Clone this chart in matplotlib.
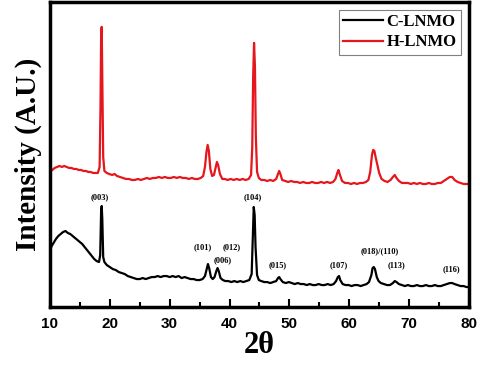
import matplotlib
matplotlib.use("Agg")
import matplotlib.pyplot as plt
from matplotlib.ticker import MultipleLocator

# C-LNMO pattern (2theta, intensity in arbitrary units)
c_2theta = [10.0, 10.3, 10.6, 11.0, 11.4, 11.8, 12.2, 12.6, 13.0, 13.4, 13.8, 14.2, 14.6, 15.0, 15.4,
            15.8, 16.2, 16.6, 17.0, 17.4, 17.8, 18.2, 18.4, 18.55, 18.65, 18.75, 18.9, 19.1, 19.5, 20.0,
            20.5, 21.0, 21.5, 22.0, 22.5, 23.0, 23.5, 24.0, 24.5, 25.0, 25.5, 26.0, 26.5, 27.0, 27.5,
            28.0, 28.5, 29.0, 29.5, 30.0, 30.5, 31.0, 31.5, 32.0, 32.5, 33.0, 33.5, 34.0, 34.5, 35.0,
            35.5, 35.9, 36.2, 36.4, 36.6, 36.9, 37.2, 37.5, 37.8, 38.0, 38.2, 38.5, 38.9, 39.3, 39.8,
            40.3, 40.8, 41.3, 41.8, 42.3, 42.8, 43.3, 43.7, 43.9, 44.05, 44.2, 44.35, 44.6, 44.9, 45.3,
            45.8, 46.3, 46.8, 47.3, 47.8, 48.1, 48.3, 48.5, 48.9, 49.4, 49.9, 50.4, 50.9, 51.4, 51.9,
            52.4, 52.9, 53.4, 53.9, 54.4, 54.9, 55.4, 55.9, 56.4, 56.9, 57.4, 57.8, 58.1, 58.3, 58.5,
            58.9, 59.4, 59.9, 60.4, 60.9, 61.4, 61.9, 62.4, 62.9, 63.3, 63.7, 63.9, 64.1, 64.3, 64.6,
            64.9, 65.3, 65.8, 66.3, 66.8, 67.3, 67.6, 67.9, 68.3, 68.8, 69.3, 69.8, 70.3, 70.8, 71.3,
            71.8, 72.3, 72.8, 73.3, 73.8, 74.3, 74.8, 75.3, 75.8, 76.3, 76.8, 77.2, 77.6, 78.1, 78.6,
            79.1, 79.6, 80.0]
c_int = [57, 61, 64, 68, 71, 73, 75, 76, 74, 73, 71, 69, 67, 65, 63,
         60, 57, 54, 51, 48, 46, 45, 52, 95, 101, 88, 50, 45, 42, 40,
         38, 37, 35, 34, 33, 31, 30, 29, 28, 28, 29, 28, 29, 30, 30,
         31, 30, 31, 31, 30, 31, 30, 31, 29, 30, 29, 28, 28, 27, 27,
         28, 31, 38, 43, 39, 30, 28, 30, 36, 39, 36, 29, 27, 26, 26,
         25, 26, 25, 26, 25, 26, 27, 33, 70, 100, 92, 60, 32, 27, 26,
         25, 25, 24, 25, 26, 29, 30, 28, 25, 24, 25, 24, 23, 24, 23,
         23, 22, 23, 22, 22, 23, 22, 22, 23, 22, 23, 26, 30, 31, 27,
         23, 22, 22, 21, 22, 22, 21, 22, 23, 25, 32, 39, 40, 38, 30,
         26, 24, 23, 22, 22, 24, 26, 25, 23, 22, 21, 22, 21, 21, 22,
         21, 21, 22, 21, 21, 22, 21, 21, 22, 23, 24, 24, 23, 22, 21,
         21, 20, 20]

# H-LNMO pattern (offset upward)
h_2theta = [10.0, 10.4, 10.8, 11.2, 11.6, 12.0, 12.4, 12.8, 13.2, 13.6, 14.0, 14.4, 14.8, 15.2, 15.6,
            16.0, 16.4, 16.8, 17.2, 17.6, 18.0, 18.3, 18.45, 18.55, 18.65, 18.75, 18.9, 19.1, 19.5, 19.9,
            20.4, 20.8, 21.2, 21.7, 22.2, 22.7, 23.2, 23.7, 24.2, 24.7, 25.2, 25.7, 26.2, 26.7, 27.2,
            27.7, 28.2, 28.7, 29.2, 29.7, 30.2, 30.7, 31.2, 31.7, 32.2, 32.7, 33.2, 33.7, 34.2, 34.7,
            35.2, 35.6, 35.9, 36.15, 36.35, 36.55, 36.8, 37.1, 37.4, 37.7, 37.9, 38.1, 38.4, 38.8, 39.2,
            39.7, 40.2, 40.7, 41.2, 41.7, 42.2, 42.7, 43.2, 43.6, 43.8, 43.95, 44.1, 44.25, 44.4, 44.6,
            44.9, 45.3, 45.8, 46.3, 46.8, 47.3, 47.8, 48.1, 48.3, 48.5, 48.8, 49.3, 49.8, 50.3, 50.8,
            51.3, 51.8, 52.3, 52.8, 53.3, 53.8, 54.3, 54.8, 55.3, 55.8, 56.3, 56.8, 57.3, 57.7, 58.0,
            58.2, 58.4, 58.8, 59.3, 59.8, 60.3, 60.8, 61.3, 61.8, 62.3, 62.8, 63.2, 63.5, 63.8, 64.0,
            64.2, 64.4, 64.7, 65.0, 65.4, 65.9, 66.4, 66.9, 67.3, 67.6, 67.9, 68.3, 68.8, 69.3, 69.8,
            70.3, 70.8, 71.3, 71.8, 72.3, 72.8, 73.3, 73.8, 74.3, 74.8, 75.3, 75.8, 76.3, 76.8, 77.2,
            77.6, 78.1, 78.6, 79.1, 79.6, 80.0]
h_int = [135, 137, 139, 140, 141, 140, 141, 140, 139, 139, 138, 138, 137, 137, 136,
         136, 135, 135, 134, 134, 134, 140, 200, 270, 280, 230, 150, 136, 134, 133,
         132, 133, 131, 130, 129, 128, 128, 127, 127, 128, 127, 128, 129, 128, 129,
         129, 130, 129, 130, 129, 129, 130, 129, 130, 129, 129, 128, 129, 128, 128,
         129, 131, 140, 155, 162, 156, 138, 131, 132, 140, 145, 142, 133, 128, 128,
         127, 128, 127, 128, 127, 128, 127, 128, 132, 160, 230, 264, 240, 170, 135,
         129, 127, 127, 126, 127, 126, 128, 133, 136, 133, 127, 126, 125, 126, 125,
         125, 124, 125, 124, 124, 125, 124, 124, 125, 124, 125, 124, 125, 128, 134,
         137, 133, 126, 124, 124, 123, 124, 123, 124, 124, 125, 127, 135, 152, 157,
         156, 150, 142, 134, 128, 126, 125, 127, 130, 132, 129, 126, 124, 124, 124,
         123, 124, 123, 124, 123, 123, 124, 123, 123, 124, 124, 126, 128, 130, 130,
         127, 125, 124, 123, 123, 123]

# Miller index labels
hkl_labels = ["(003)", "(104)", "(101)", "(012)", "(006)", "(015)", "(107)",
              "(018)/(110)", "(113)", "(116)"]
hkl_x = [18.35, 43.8, 35.5, 40.3, 38.9, 48.1, 58.3, 65.1, 67.9, 77.0]
hkl_y = [106, 106, 56, 56, 43, 38, 38, 52, 38, 34]

fig = plt.figure(figsize=(4.8, 3.66), dpi=100)
ax = fig.add_axes([0.104, 0.161, 0.873, 0.834])

ax.plot(c_2theta, c_int, color="black", lw=1.6, label="C-LNMO")
ax.plot(h_2theta, h_int, color="#e5161c", lw=1.6, label="H-LNMO")

for lab, x, y in zip(hkl_labels, hkl_x, hkl_y):
    ax.text(x, y, lab, ha="center", va="bottom", fontsize=6,
            fontweight="bold", family="Liberation Serif")

ax.set_xlim(10, 80)
ax.set_ylim(0, 305)
ax.xaxis.set_major_locator(MultipleLocator(10))
ax.xaxis.set_minor_locator(MultipleLocator(5))
ax.tick_params(axis="x", which="major", direction="in", length=6, width=1.5,
               labelsize=11, pad=7)
ax.tick_params(axis="x", which="minor", direction="in", length=3.5, width=1.5)
ax.set_yticks([])
for lbl in ax.get_xticklabels():
    lbl.set_fontweight("bold")
    lbl.set_family("Liberation Sans")
for sp in ax.spines.values():
    sp.set_linewidth(2.5)

ax.set_xlabel("2θ", fontsize=22, fontweight="bold", family="Liberation Serif", labelpad=0)
ax.set_ylabel("Intensity (A.U.)", fontsize=21, fontweight="bold",
              family="Liberation Serif", labelpad=6)

leg = ax.legend(loc="upper right", prop={"family": "Liberation Serif", "weight": "bold", "size": 12},
                fancybox=False, edgecolor="gray", handlelength=2.4, handletextpad=0.2,
                borderpad=0.25, labelspacing=0.25, borderaxespad=0.5, framealpha=1)
leg.get_frame().set_linewidth(0.8)

fig.savefig("out.png", dpi=100)
